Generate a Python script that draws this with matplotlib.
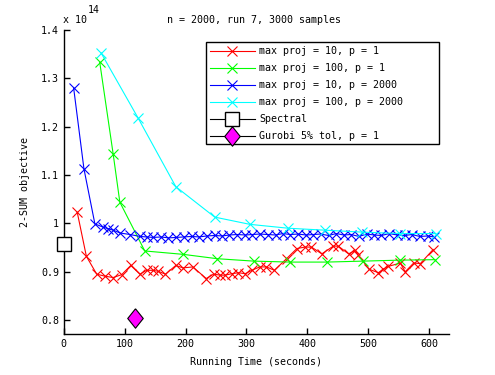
import matplotlib
matplotlib.use('Agg')
import matplotlib.pyplot as plt
from matplotlib.patches import Rectangle
from matplotlib.ticker import FormatStrFormatter

plt.rcParams['font.family'] = ['DejaVu Sans Mono']
plt.rcParams['font.size'] = 7.2

# Data (objective in units of 1e14)
red_t = [22, 37, 54, 67, 81, 95, 110, 125, 136, 146, 155, 167, 184, 196, 212,
         234, 246, 257, 265, 276, 287, 298, 309, 322, 333, 346, 366, 383, 396,
         407, 424, 443, 451, 468, 479, 484, 502, 517, 525, 533, 553, 561, 575,
         586, 607]
red_y = [1.023, 0.932, 0.895, 0.891, 0.888, 0.894, 0.913, 0.895, 0.903, 0.903,
         0.901, 0.895, 0.913, 0.908, 0.910, 0.886, 0.895, 0.893, 0.893, 0.896,
         0.898, 0.896, 0.903, 0.910, 0.910, 0.903, 0.927, 0.948, 0.951, 0.951,
         0.937, 0.953, 0.953, 0.937, 0.944, 0.934, 0.905, 0.898, 0.905, 0.911,
         0.918, 0.900, 0.918, 0.917, 0.946]

green_t = [59, 81, 92, 133, 196, 252, 312, 372, 432, 492, 552, 610]
green_y = [1.333, 1.144, 1.044, 0.943, 0.936, 0.927, 0.922, 0.920, 0.920,
           0.922, 0.924, 0.925]

blue_t = [16, 33, 51, 65, 73, 81, 93, 109, 125, 136, 147, 160, 172, 185, 197,
          210, 222, 235, 248, 260, 272, 285, 298, 310, 322, 335, 348, 360, 372,
          385, 398, 410, 422, 435, 448, 460, 472, 485, 498, 510, 522, 535, 548,
          560, 572, 585, 598, 608]
blue_y = [1.281, 1.113, 0.999, 0.992, 0.989, 0.986, 0.980, 0.977, 0.973, 0.972,
          0.971, 0.972, 0.970, 0.971, 0.972, 0.973, 0.972, 0.974, 0.975, 0.974,
          0.976, 0.977, 0.976, 0.977, 0.978, 0.977, 0.976, 0.979, 0.977, 0.978,
          0.976, 0.977, 0.978, 0.975, 0.979, 0.976, 0.977, 0.973, 0.978, 0.976,
          0.975, 0.979, 0.976, 0.975, 0.977, 0.973, 0.974, 0.972]

cyan_t = [61, 122, 184, 248, 306, 369, 429, 490, 553, 611]
cyan_y = [1.353, 1.218, 1.076, 1.013, 0.998, 0.990, 0.986, 0.982, 0.979, 0.979]

spectral_t = [0]
spectral_y = [0.958]
gurobi_t = [117]
gurobi_y = [0.804]

labels = ['max proj = 10, p = 1', 'max proj = 100, p = 1',
          'max proj = 10, p = 2000', 'max proj = 100, p = 2000',
          'Spectral', 'Gurobi 5% tol, p = 1']

fig = plt.figure(figsize=(4.95, 3.75), dpi=100)
ax = fig.add_axes([0.129, 0.109, 0.778, 0.811])

lw = 0.8
ms = 6.5
diamond = [(0, 1), (0.8, 0), (0, -1), (-0.8, 0), (0, 1)]
ax.plot(red_t, red_y, '-x', color='#ff0000', lw=lw, ms=ms, mew=0.8, label=labels[0])
ax.plot(green_t, green_y, '-x', color='#00ff00', lw=lw, ms=ms, mew=0.8, label=labels[1])
ax.plot(blue_t, blue_y, '-x', color='#0000ff', lw=lw, ms=ms, mew=0.8, label=labels[2])
ax.plot(cyan_t, cyan_y, '-x', color='#00ffff', lw=lw, ms=ms, mew=0.8, label=labels[3])
ax.plot(spectral_t, spectral_y, '-s', color='black', mfc='white', mec='black',
        lw=lw, ms=10, mew=1, label=labels[4], clip_on=False, zorder=5)
ax.plot(gurobi_t, gurobi_y, '-', marker=diamond, color='black', mfc='#ff00ff',
        mec='black', lw=lw, ms=14, mew=0.8, label=labels[5], zorder=5)

ax.set_xlim(0, 633)
ax.set_ylim(0.771, 1.4)
ax.set_xticks([0, 100, 200, 300, 400, 500, 600])
ax.set_yticks([0.8, 0.9, 1.0, 1.1, 1.2, 1.3, 1.4])
ax.yaxis.set_major_formatter(FormatStrFormatter('%g'))
ax.tick_params(direction='in', length=4, width=1, top=False, right=False)
ax.spines['top'].set_visible(False)
ax.spines['right'].set_visible(False)
for s in ('left', 'bottom'):
    ax.spines[s].set_linewidth(1)

ax.set_xlabel('Running Time (seconds)', labelpad=6)
ax.set_ylabel('2-SUM objective', labelpad=8)
fig.text(0.513, 0.947, 'n = 2000, run 7, 3000 samples', ha='center', va='center')
fig.text(0.127, 0.947, 'x 10', ha='left', va='center')
fig.text(0.178, 0.973, '14', ha='left', va='center')

# legend without its own frame; box drawn separately (MATLAB-style width)
leg = ax.legend(loc='upper left', bbox_to_anchor=(0.416, 0.888),
                bbox_transform=fig.transFigure, borderaxespad=0,
                frameon=False, handlelength=4.5, labelspacing=0.7,
                handletextpad=0.4, borderpad=0.4)
leg.set_zorder(10)
ax.add_patch(Rectangle((206 / 495, 1 - 144 / 375), (439 - 206) / 495,
                       (144 - 42) / 375, transform=fig.transFigure,
                       facecolor='white', edgecolor='black', lw=1,
                       zorder=8, clip_on=False))

fig.savefig('out.png', dpi=100)
